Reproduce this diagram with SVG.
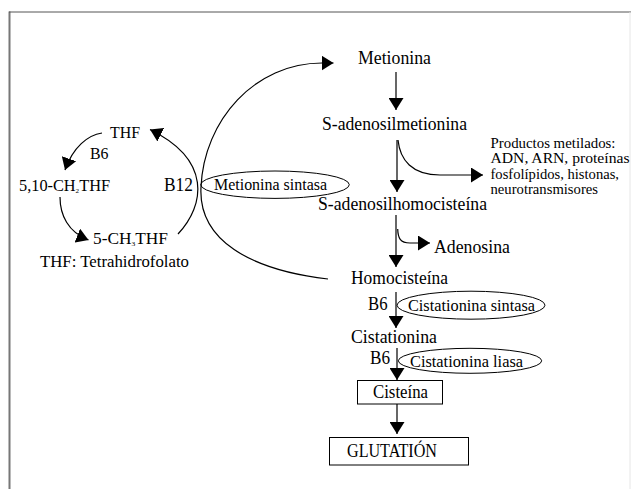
<svg xmlns="http://www.w3.org/2000/svg" width="631" height="489" viewBox="0 0 631 489">
<defs>
<marker id="ah" markerUnits="userSpaceOnUse" markerWidth="12" markerHeight="15" refX="12" refY="7.5" orient="auto" viewBox="0 0 12 15">
<path d="M0,0 L12,7.5 L0,15 z" fill="#000"/>
</marker>
<style>
text{font-family:"Liberation Serif",Tinos,"Nimbus Roman","Nimbus Roman No9 L","Times New Roman",Times,FreeSerif,"Noto Serif","DejaVu Serif",serif;fill:#000}
.m{font-size:18px}
.s{font-size:16px}
.p{font-size:15px}
.c{fill:none;stroke:#000;stroke-width:1.2}
.a{marker-end:url(#ah)}
.e{fill:none;stroke:#000;stroke-width:1}
.b{fill:#fff;stroke:#000;stroke-width:1}
</style>
</defs>
<rect width="631" height="489" fill="#fff"/>
<g id="frame">
<line x1="9.5" y1="11.5" x2="9.5" y2="489" stroke="#777" stroke-width="2"/>
<line x1="9" y1="12" x2="631" y2="12" stroke="#555" stroke-width="1"/>
<line x1="630" y1="12" x2="630" y2="489" stroke="#e6e6e6" stroke-width="1"/>
</g>
<g id="connectors">
<line class="c a" x1="396" y1="72" x2="396" y2="110"/>
<line class="c a" x1="397" y1="140" x2="397" y2="192"/>
<line class="c a" x1="396" y1="215" x2="396" y2="267"/>
<line class="c a" x1="396" y1="292" x2="396" y2="328"/>
<line class="c a" x1="397" y1="348" x2="397" y2="380"/>
<line class="c a" x1="397" y1="404" x2="397" y2="434"/>
<path class="c a" d="M398,140 C400,160 412,175 440,175 L483,175"/>
<path class="c a" d="M397.7,229 C398,238 400,243 410,243 L430,243"/>
<path class="c a" d="M328,279 C250,270 198,240 201,187 C204,120 255,63 322,63 L333.5,63"/>
<path class="c a" d="M178,234 C205,205 212,160 150,129.5"/>
<path class="c a" d="M102,133 C88,135 73,147 65,170"/>
<path class="c a" d="M60,197 C60,215 68,232 88.5,240"/>
</g>
<g id="metionina"><text class="m" x="358" y="64" textLength="73" lengthAdjust="spacingAndGlyphs">Metionina</text></g>
<g id="s-adenosilmetionina"><text class="m" x="322" y="130" textLength="145" lengthAdjust="spacingAndGlyphs">S-adenosilmetionina</text></g>
<g id="productos-metilados">
<text class="p" x="490.5" y="147.5" textLength="125" lengthAdjust="spacingAndGlyphs">Productos metilados:</text>
<text class="p" x="490.5" y="163" textLength="139" lengthAdjust="spacingAndGlyphs">ADN, ARN, proteínas</text>
<text class="p" x="490.5" y="178.5" textLength="128.5" lengthAdjust="spacingAndGlyphs">fosfolípidos, histonas,</text>
<text class="p" x="490.5" y="194" textLength="107.5" lengthAdjust="spacingAndGlyphs">neurotransmisores</text>
</g>
<g id="s-adenosilhomocisteina"><text class="m" x="318" y="210" textLength="169" lengthAdjust="spacingAndGlyphs">S-adenosilhomocisteína</text></g>
<g id="adenosina"><text class="m" x="434" y="253" textLength="76" lengthAdjust="spacingAndGlyphs">Adenosina</text></g>
<g id="homocisteina"><text class="m" x="351" y="284" textLength="97" lengthAdjust="spacingAndGlyphs">Homocisteína</text></g>
<g id="cistationina-sintasa">
<text class="m" x="368" y="310" textLength="19.5" lengthAdjust="spacingAndGlyphs">B6</text>
<ellipse class="e" cx="471" cy="305.2" rx="74" ry="14"/>
<text class="s" x="408" y="310.5" textLength="127" lengthAdjust="spacingAndGlyphs">Cistationina sintasa</text>
</g>
<g id="cistationina"><text class="m" x="351" y="342.5" textLength="86" lengthAdjust="spacingAndGlyphs">Cistationina</text></g>
<g id="cistationina-liasa">
<text class="m" x="370" y="363.5" textLength="20" lengthAdjust="spacingAndGlyphs">B6</text>
<ellipse class="e" cx="470" cy="360.8" rx="71.7" ry="12.5"/>
<text class="s" x="410" y="366.5" textLength="113" lengthAdjust="spacingAndGlyphs">Cistationina liasa</text>
</g>
<g id="cisteina">
<rect class="b" x="357.5" y="380.5" width="85" height="23.5"/>
<text class="m" x="373" y="397.5" textLength="55" lengthAdjust="spacingAndGlyphs">Cisteína</text>
</g>
<g id="glutation">
<rect class="b" x="329.5" y="437.5" width="139" height="27.5"/>
<text class="m" x="347" y="456.5" textLength="90" lengthAdjust="spacingAndGlyphs">GLUTATIÓN</text>
</g>
<g id="metionina-sintasa">
<text class="m" x="164" y="190.5" textLength="29" lengthAdjust="spacingAndGlyphs">B12</text>
<ellipse class="e" cx="275" cy="184.7" rx="74.3" ry="13.7"/>
<text class="s" x="214" y="190" textLength="113" lengthAdjust="spacingAndGlyphs">Metionina sintasa</text>
</g>
<g id="thf"><text class="s" x="110" y="137.5" textLength="30" lengthAdjust="spacingAndGlyphs">THF</text></g>
<g id="b6-thf"><text class="s" x="90" y="159" textLength="18.5" lengthAdjust="spacingAndGlyphs">B6</text></g>
<g id="metilen-thf"><text class="s" x="19" y="191" textLength="91" lengthAdjust="spacingAndGlyphs">5,10-CH<tspan font-size="7" dy="2">2</tspan><tspan dy="-2">THF</tspan></text></g>
<g id="metil-thf"><text class="s" x="93" y="243.5" textLength="75" lengthAdjust="spacingAndGlyphs">5-CH<tspan font-size="7" dy="2">3</tspan><tspan dy="-2">THF</tspan></text></g>
<g id="leyenda"><text class="s" x="40" y="267" textLength="149" lengthAdjust="spacingAndGlyphs">THF: Tetrahidrofolato</text></g>
</svg>
